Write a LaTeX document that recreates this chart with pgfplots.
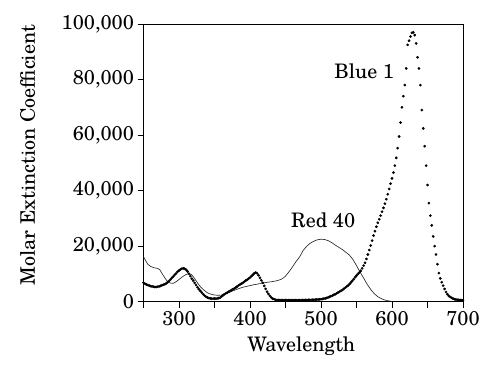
\documentclass[border=0pt]{standalone}
\usepackage{fontspec}
\setmainfont{TeX Gyre Schola}
\usepackage{pgfplots}
\pgfplotsset{compat=1.18}
\begin{document}
\begin{tikzpicture}[font=\fontsize{20}{24}\selectfont]
\useasboundingbox (0,0) rectangle (500pt,372pt);
\begin{axis}[
  at={(143.5pt,70.3pt)}, anchor=south west,
  scale only axis, width=319.5pt, height=277.7pt,
  xmin=250, xmax=700, ymin=0, ymax=100000,
  xtick={250,300,...,700}, xticklabels={,300,,400,,500,,600,,700},
  ytick={0,20000,40000,60000,80000,100000},
  yticklabels={0,{20,000},{40,000},{60,000},{80,000},{100,000}},
  scaled y ticks=false,
  tick pos=left, tick align=outside, major tick length=6pt,
  axis line style={line width=0.8pt},
  every tick/.style={black, line width=0.8pt},
  xlabel={Wavelength}, ylabel={Molar Extinction Coefficient},
  xlabel style={at={(axis description cs:0.4937,-0.1793)}, anchor=base},
  ylabel style={at={(axis description cs:-0.3396,0.528)}, anchor=base},
  clip=false,
]
\addplot[black!85, line width=0.65pt, no marks] coordinates {
(250,16200)(253,14800)(256,13500)(260,12700)(265,12200)(270,12000)(273,11500)(276,10200)(280,8600)(284,7200)(288,6700)(292,6600)(296,7200)(300,8000)(305,9000)(310,9800)(314,10100)(318,9700)(322,8300)(326,6800)(330,5400)(335,4200)(340,3200)(345,2700)(350,2400)(355,2300)(360,2400)(365,2800)(370,3300)(375,3800)(380,4300)(385,4800)(390,5200)(395,5500)(400,5800)(405,6100)(410,6300)(415,6600)(420,6800)(425,7000)(430,7200)(435,7400)(440,7700)(445,8200)(450,9200)(455,10800)(460,12600)(465,14500)(470,16200)(475,18500)(480,20000)(485,21100)(490,21800)(495,22300)(500,22500)(505,22400)(510,22000)(515,21300)(520,20400)(525,19600)(530,18800)(535,17800)(540,16800)(545,15200)(550,13000)(555,10700)(560,8500)(565,6300)(570,4400)(575,2900)(580,1800)(585,1100)(590,600)(595,300)(600,100)
};
\addplot[black, only marks, mark=*, mark size=1.15pt] coordinates {
(250,6800)(252,6500)(254,6200)(256,6000)(258,5800)(260,5600)(262,5500)(264,5400)(266,5300)(268,5300)(270,5400)(272,5500)(274,5700)(276,5900)(278,6100)(280,6300)(282,6600)(284,7000)(286,7500)(288,8000)(290,8600)(292,9100)(294,9700)(296,10200)(298,10800)(300,11200)(302,11600)(304,11900)(306,12000)(308,11900)(310,11500)(312,10900)(314,10100)(316,9200)(318,8300)(320,7600)(322,6800)(324,6000)(326,5200)(328,4500)(330,3900)(332,3300)(334,2700)(336,2200)(338,1800)(340,1500)(342,1300)(344,1200)(346,1100)(348,1100)(350,1100)(352,1100)(354,1200)(356,1300)(358,1500)(360,1900)(362,2300)(364,2700)(366,3000)(368,3300)(370,3600)(372,3900)(374,4200)(376,4500)(378,4800)(380,5100)(382,5500)(384,5900)(386,6200)(388,6500)(390,6800)(392,7200)(394,7600)(396,7900)(398,8300)(400,8700)(402,9200)(404,9700)(406,10200)(408,10500)(410,10200)(412,9500)(414,8600)(416,7700)(418,6800)(420,5700)(422,4600)(424,3600)(426,2800)(428,2100)(430,1500)(432,1100)(434,900)(436,700)(438,600)(440,600)(442,550)(444,550)(446,550)(448,550)(450,550)(452,550)(454,550)(456,550)(458,550)(460,550)(462,550)(464,550)(466,550)(468,550)(470,550)(472,550)(474,600)(476,600)(478,600)(480,600)(482,650)(484,650)(486,650)(488,700)(490,700)(492,750)(494,800)(496,800)(498,850)(500,900)(502,1000)(504,1100)(506,1200)(508,1350)(510,1550)(512,1750)(514,2000)(516,2200)(518,2450)(520,2700)(522,3000)(524,3300)(526,3600)(528,3900)(530,4200)(532,4600)(534,5000)(536,5400)(538,5800)(540,6300)(542,6900)(544,7500)(546,8100)(548,8800)(550,9400)(552,10000)(554,10500)(556,11100)(558,12000)(560,13000)(562,14000)(564,15400)(566,17000)(568,18600)(570,20200)(572,22000)(574,23800)(576,25400)(578,27000)(580,28400)(582,29700)(584,31000)(586,32400)(588,33800)(590,35300)(592,36900)(594,38700)(596,40600)(598,42500)(600,44400)(602,46500)(604,49000)(606,51800)(608,55300)(610,59500)(612,64500)(614,70000)(616,74000)(618,78000)(620,84000)(622,92500)(624,94000)(626,95500)(628,96800)(630,97000)(632,96000)(634,93000)(636,88000)(638,84000)(640,78000)(642,69000)(644,62400)(646,56000)(648,49000)(650,42000)(652,35500)(654,31000)(656,27500)(658,23500)(660,20000)(662,17000)(664,13500)(666,10300)(668,8400)(670,7000)(672,5800)(674,4600)(676,3500)(678,2700)(680,2100)(682,1700)(684,1400)(686,1100)(688,900)(690,800)(692,700)(694,650)(696,600)(698,550)(700,500)
};
\node[anchor=base] at (axis cs:561,80200) {Blue 1};
\node[anchor=base] at (axis cs:503,26650) {Red 40};
\end{axis}
\end{tikzpicture}
\end{document}
